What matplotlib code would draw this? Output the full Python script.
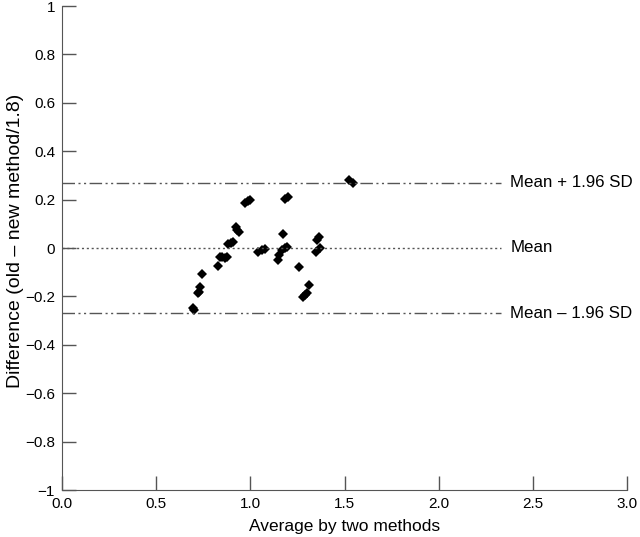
import numpy as np
import matplotlib.pyplot as plt
from matplotlib.ticker import FuncFormatter

plt.rcParams['font.family'] = ['Liberation Sans', 'DejaVu Sans']

# average of the two methods and their difference
avg = [0.697, 0.703, 0.724, 0.728, 0.733, 0.745, 0.828, 0.839, 0.848, 0.866, 0.875,
       0.883, 0.896, 0.910, 0.924, 0.928, 0.940, 0.972, 0.986, 0.998,
       1.043, 1.060, 1.078, 1.149, 1.154, 1.167, 1.175, 1.184, 1.193, 1.184, 1.202,
       1.260, 1.282, 1.290, 1.303, 1.313, 1.347, 1.352, 1.366, 1.370, 1.526, 1.547]
diff = [-0.249, -0.256, -0.185, -0.180, -0.162, -0.109, -0.074, -0.036, -0.038, -0.043, -0.038,
        0.015, 0.022, 0.026, 0.085, 0.074, 0.067, 0.187, 0.194, 0.198,
        -0.017, -0.008, -0.003, -0.050, -0.029, -0.008, 0.058, -0.001, 0.005, 0.201, 0.212,
        -0.080, -0.204, -0.194, -0.185, -0.153, -0.015, 0.033, 0.044, -0.001, 0.281, 0.267]

mean_diff = 0.0
sd_limit = 0.27
line_end = 2.33

fig = plt.figure(figsize=(6.4, 5.37), dpi=100)
ax = fig.add_axes([62/640, 1-490/537, (627-62)/640, (490-6)/537])

ax.plot(avg, diff, 'D', color='black', markersize=5.5, markeredgewidth=0)

ax.plot([0, line_end], [mean_diff, mean_diff], color='#555555', lw=1, linestyle=(0, (1.5, 2)))
for y in (mean_diff + sd_limit, mean_diff - sd_limit):
    ax.plot([0, line_end], [y, y], color='#555555', lw=1,
            linestyle=(0, (9, 2.5, 1.5, 2.5, 1.5, 2.5)))

lbl_x = line_end + 0.05
ax.text(lbl_x, mean_diff + sd_limit, 'Mean + 1.96 SD', va='center', fontsize=12.2, clip_on=False)
ax.text(lbl_x, mean_diff, 'Mean', va='center', fontsize=12.2, clip_on=False)
ax.text(lbl_x, mean_diff - sd_limit, 'Mean \u2013 1.96 SD', va='center', fontsize=12.2, clip_on=False)

ax.set_xlim(0, 3)
ax.set_ylim(-1, 1)
ax.set_xticks(np.arange(0, 3.01, 0.5))
ax.set_yticks(np.arange(-1, 1.01, 0.2))


def yfmt(v, pos):
    if abs(v) < 1e-9:
        return '0'
    if abs(abs(v) - 1) < 1e-9:
        return '\u22121' if v < 0 else '1'
    s = '%.1f' % abs(v)
    return ('\u2212' + s) if v < 0 else s


ax.yaxis.set_major_formatter(FuncFormatter(yfmt))
ax.xaxis.set_major_formatter(FuncFormatter(lambda v, p: '%.1f' % v))

ax.tick_params(direction='in', length=10, width=1, color='#555555', labelsize=11, pad=5)
for s in ('top', 'right'):
    ax.spines[s].set_visible(False)
for s in ('left', 'bottom'):
    ax.spines[s].set_color('#555555')

ax.set_xlabel('Average by two methods', fontsize=12.5, labelpad=6)
ax.set_ylabel('Difference (old \u2013 new method/1.8)', fontsize=14)
ax.yaxis.set_label_coords(-0.068, 0.514)

fig.savefig('out.png', dpi=100)
